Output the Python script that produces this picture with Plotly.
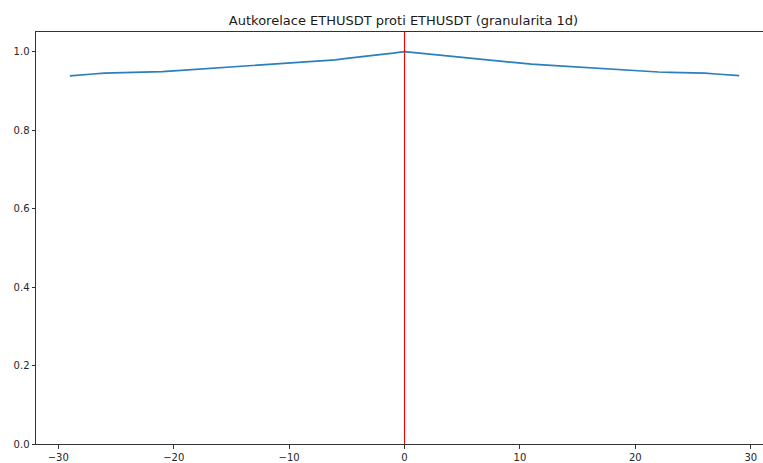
import plotly.graph_objects as go

# Lags (days) and autocorrelation values
lags = list(range(-29, 30))
acf_values = [
    0.938, 0.941, 0.943, 0.945, 0.9455, 0.946, 0.947, 0.948, 0.949, 0.951,
    0.953, 0.955, 0.957, 0.959, 0.961, 0.963, 0.965, 0.967, 0.969, 0.971,
    0.972, 0.974, 0.976, 0.979, 0.983, 0.986, 0.990, 0.993, 0.996, 1.000,
    0.997, 0.994, 0.991, 0.988, 0.985, 0.982, 0.979, 0.976, 0.973, 0.970,
    0.968, 0.966, 0.964, 0.963, 0.961, 0.959, 0.957, 0.955, 0.953, 0.951,
    0.949, 0.948, 0.947, 0.9465, 0.946, 0.945, 0.943, 0.941, 0.939,
]
zero_lag = 0
x_ticks = [-30, -20, -10, 0, 10, 20, 30]
x_tick_text = ["\u221230", "\u221220", "\u221210", "0", "10", "20", "30"]
y_ticks = [0.0, 0.2, 0.4, 0.6, 0.8, 1.0]
y_tick_text = ["0.0", "0.2", "0.4", "0.6", "0.8", "1.0"]
title = "Autkorelace ETHUSDT proti ETHUSDT (granularita 1d)"

fig = go.Figure()
fig.add_trace(go.Scatter(
    x=lags, y=acf_values, mode="lines",
    line=dict(color="#2b7fbc", width=1.7),
    hoverinfo="skip", showlegend=False,
))
fig.add_shape(type="line", xref="x", yref="y", x0=zero_lag, x1=zero_lag,
              y0=0, y1=1.05, line=dict(color="red", width=1.1))

axis_font = dict(family="DejaVu Sans", size=10, color="#262626")
fig.update_layout(
    width=763, height=463,
    margin=dict(l=36, r=0, t=32, b=19, pad=0, autoexpand=False),
    paper_bgcolor="white", plot_bgcolor="white",
    title=dict(text=title, x=403.5 / 763, xanchor="center", xref="container",
               y=1 - 20 / 463, yanchor="middle", yref="container",
               font=dict(family="DejaVu Sans", size=13, color="#1a1a1a")),
    xaxis=dict(range=[-31.93, 31.06], tickvals=x_ticks, ticktext=x_tick_text,
               showgrid=False, zeroline=False, showline=True, mirror=True,
               linecolor="#333", linewidth=1, ticks="outside", ticklen=3.5,
               tickwidth=0.8, tickcolor="#333", tickfont=axis_font,
               automargin=False),
    yaxis=dict(range=[0, 1.05], tickvals=y_ticks, ticktext=y_tick_text,
               showgrid=False, zeroline=False, showline=True, mirror=False,
               linecolor="#333", linewidth=1, ticks="outside", ticklen=3.5,
               tickwidth=0.8, tickcolor="#333", tickfont=axis_font,
               automargin=False),
)

fig.write_html(
    "out.html",
    config={"displayModeBar": False},
    post_script="document.body.style.margin='0';document.body.style.overflow='hidden';",
)
